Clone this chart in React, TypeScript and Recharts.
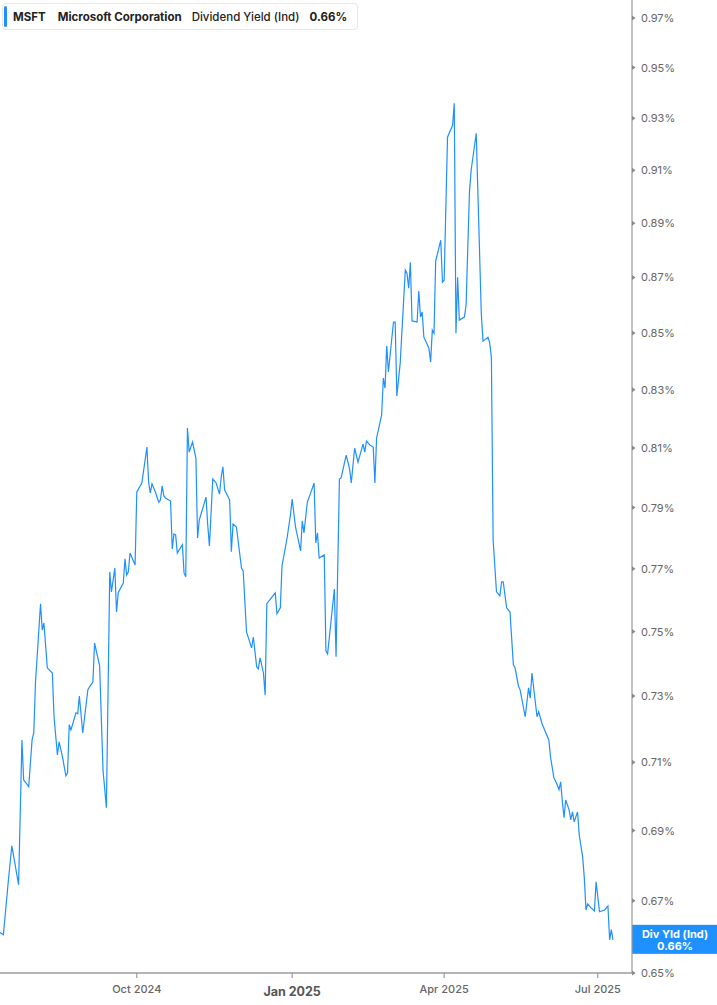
import { LineChart, Line, XAxis, YAxis, ReferenceLine } from 'recharts';

// MSFT dividend yield (indicated)
const dates = [
  // Jul 2024
  '2024-07-12', '2024-07-14', '2024-07-17', '2024-07-19', '2024-07-23', '2024-07-25', '2024-07-26', '2024-07-29', '2024-07-31',
  // Aug
  '2024-08-01', '2024-08-02', '2024-08-05', '2024-08-06', '2024-08-07', '2024-08-09', '2024-08-12', '2024-08-13', '2024-08-15', '2024-08-16',
  '2024-08-18', '2024-08-20', '2024-08-21', '2024-08-22', '2024-08-23', '2024-08-26', '2024-08-27', '2024-08-28', '2024-08-30',
  // Sep
  '2024-09-02', '2024-09-03', '2024-09-05', '2024-09-06', '2024-09-09', '2024-09-11', '2024-09-13', '2024-09-15', '2024-09-16',
  '2024-09-18', '2024-09-19', '2024-09-20', '2024-09-23', '2024-09-24', '2024-09-25', '2024-09-26', '2024-09-27', '2024-09-30',
  // Oct
  '2024-10-01', '2024-10-04', '2024-10-07', '2024-10-08', '2024-10-09', '2024-10-10', '2024-10-12', '2024-10-14', '2024-10-15', '2024-10-16',
  '2024-10-17', '2024-10-18', '2024-10-21', '2024-10-22', '2024-10-23', '2024-10-24', '2024-10-25', '2024-10-28', '2024-10-29', '2024-10-30', '2024-10-31',
  // Nov
  '2024-11-01', '2024-11-03', '2024-11-05', '2024-11-06', '2024-11-07', '2024-11-11', '2024-11-12', '2024-11-13', '2024-11-15',
  '2024-11-17', '2024-11-19', '2024-11-20', '2024-11-21', '2024-11-22', '2024-11-25', '2024-11-26', '2024-11-27', '2024-11-29',
  // Dec
  '2024-12-02', '2024-12-03', '2024-12-05', '2024-12-08', '2024-12-09', '2024-12-11', '2024-12-12', '2024-12-13', '2024-12-15',
  '2024-12-16', '2024-12-17', '2024-12-22', '2024-12-23', '2024-12-25', '2024-12-26', '2024-12-29', '2024-12-31',
  // Jan 2025
  '2025-01-01', '2025-01-03', '2025-01-06', '2025-01-07', '2025-01-08', '2025-01-10', '2025-01-12', '2025-01-14', '2025-01-15',
  '2025-01-16', '2025-01-17', '2025-01-20', '2025-01-21', '2025-01-22', '2025-01-26', '2025-01-27', '2025-01-29', '2025-01-30',
  // Feb
  '2025-02-02', '2025-02-04', '2025-02-05', '2025-02-07', '2025-02-09', '2025-02-12', '2025-02-13', '2025-02-14', '2025-02-16',
  '2025-02-18', '2025-02-19', '2025-02-20', '2025-02-23', '2025-02-24', '2025-02-25', '2025-02-26', '2025-02-27',
  // Mar
  '2025-03-02', '2025-03-03', '2025-03-04', '2025-03-06', '2025-03-09', '2025-03-10', '2025-03-11', '2025-03-12', '2025-03-13', '2025-03-16',
  '2025-03-17', '2025-03-18', '2025-03-19', '2025-03-20', '2025-03-23', '2025-03-24', '2025-03-25', '2025-03-26', '2025-03-27', '2025-03-30', '2025-03-31',
  // Apr
  '2025-04-01', '2025-04-03', '2025-04-06', '2025-04-07', '2025-04-08', '2025-04-09', '2025-04-10', '2025-04-13', '2025-04-14',
  '2025-04-16', '2025-04-17', '2025-04-20', '2025-04-23', '2025-04-24', '2025-04-27', '2025-04-28', '2025-04-29', '2025-04-30',
  // May
  '2025-05-02', '2025-05-04', '2025-05-05', '2025-05-06', '2025-05-08', '2025-05-10', '2025-05-12', '2025-05-13', '2025-05-15',
  '2025-05-16', '2025-05-19', '2025-05-21', '2025-05-22', '2025-05-23', '2025-05-26', '2025-05-27', '2025-05-29', '2025-05-31',
  // Jun
  '2025-06-02', '2025-06-03', '2025-06-05', '2025-06-07', '2025-06-08', '2025-06-09', '2025-06-10', '2025-06-11', '2025-06-12', '2025-06-14', '2025-06-15',
  '2025-06-16', '2025-06-17', '2025-06-19', '2025-06-20', '2025-06-22', '2025-06-23', '2025-06-24', '2025-06-25', '2025-06-27', '2025-06-29', '2025-06-30',
  // Jul
  '2025-07-02', '2025-07-05', '2025-07-07', '2025-07-08', '2025-07-09', '2025-07-10',
];

const yields = [
  // Jul 2024
  0.6611, 0.6605, 0.6759, 0.6856, 0.6745, 0.7167, 0.7048, 0.7028, 0.7167,
  // Aug
  0.7188, 0.7340, 0.7588, 0.7505, 0.7527, 0.7387, 0.7371, 0.7237, 0.7122, 0.7161,
  0.7116, 0.7060, 0.7069, 0.7213, 0.7197, 0.7249, 0.7246, 0.7300, 0.7188,
  // Sep
  0.7319, 0.7328, 0.7343, 0.7464, 0.7393, 0.7077, 0.6966, 0.7690, 0.7626,
  0.7702, 0.7562, 0.7623, 0.7654, 0.7732, 0.7680, 0.7690, 0.7751, 0.7712,
  // Oct
  0.7952, 0.7982, 0.8103, 0.7985, 0.7949, 0.7979, 0.7952, 0.7918, 0.7925, 0.7972,
  0.7939, 0.7932, 0.7922, 0.7764, 0.7813, 0.7810, 0.7751, 0.7778, 0.7686, 0.7674, 0.8168,
  // Nov
  0.8086, 0.8120, 0.8066, 0.7800, 0.7859, 0.7935, 0.7843, 0.7774, 0.7995,
  0.7982, 0.7945, 0.8002, 0.8036, 0.7959, 0.7925, 0.7755, 0.7846, 0.7836,
  // Dec
  0.7702, 0.7693, 0.7498, 0.7449, 0.7483, 0.7390, 0.7384, 0.7418, 0.7371,
  0.7303, 0.7588, 0.7623, 0.7556, 0.7575, 0.7709, 0.7800, 0.7876,
  // Jan 2025
  0.7928, 0.7836, 0.7758, 0.7856, 0.7817, 0.7918, 0.7949, 0.7982, 0.7784,
  0.7817, 0.7735, 0.7745, 0.7440, 0.7430, 0.7635, 0.7421, 0.7995, 0.7999,
  // Feb
  0.8076, 0.8029, 0.7982, 0.8099, 0.8052, 0.8113, 0.8086, 0.8123, 0.8110,
  0.8103, 0.7982, 0.8134, 0.8213, 0.8341, 0.8306, 0.8454, 0.8362,
  // Mar
  0.8539, 0.8539, 0.8278, 0.8394, 0.8727, 0.8716, 0.8661, 0.8756, 0.8543, 0.8539,
  0.8651, 0.8557, 0.8575, 0.8485, 0.8446, 0.8397, 0.8510, 0.8499, 0.8760, 0.8837, 0.8683,
  // Apr
  0.8690, 0.9227, 0.9273, 0.9359, 0.8499, 0.8701, 0.8546, 0.8557, 0.8600,
  0.9017, 0.9100, 0.9242, 0.8571, 0.8471, 0.8485, 0.8464, 0.8411, 0.7794,
  // May
  0.7626, 0.7613, 0.7658, 0.7658, 0.7575, 0.7562, 0.7396, 0.7387, 0.7331,
  0.7319, 0.7237, 0.7325, 0.7294, 0.7371, 0.7237, 0.7252, 0.7216, 0.7191,
  // Jun
  0.7167, 0.7116, 0.7054, 0.7033, 0.7019, 0.7042, 0.6984, 0.6937, 0.6989, 0.6960, 0.6931,
  0.6954, 0.6925, 0.6954, 0.6887, 0.6825, 0.6765, 0.6674, 0.6691, 0.6680, 0.6671, 0.6753,
  // Jul
  0.6669, 0.6674, 0.6685, 0.6591, 0.6619, 0.6591,
];

const yTicks = [0.65, 0.67, 0.69, 0.71, 0.73, 0.75, 0.77, 0.79, 0.81, 0.83, 0.85, 0.87, 0.89, 0.91, 0.93, 0.95, 0.97];
const xTickDates = ['2024-10-01', '2025-01-01', '2025-04-01', '2025-07-01'];
const xTickLabels = ['Oct 2024', 'Jan 2025', 'Apr 2025', 'Jul 2025'];

const ticker = 'MSFT';
const company = 'Microsoft Corporation';
const metric = 'Dividend Yield (Ind)';
const shortMetric = 'Div Yld (Ind)';

const BLUE = '#1e90ff';

const data = dates.map((d, i) => ({ t: Date.parse(d), v: yields[i] }));
const xTicks = xTickDates.map((d) => Date.parse(d));
const xDomain = [Date.parse('2024-07-12'), Date.parse('2025-07-21T06:00:00Z')];
const lastValue = yields[yields.length - 1];
const lastText = lastValue.toFixed(2) + '%';

const XTick = (props: any) => {
  const { x, y, payload } = props;
  const i = xTicks.indexOf(payload.value);
  const label = xTickLabels[i] ?? '';
  const bold = label.startsWith('Jan');
  return (
    <g>
      <line x1={x} x2={x} y1={y} y2={y + 5} stroke="#8a8a8a" strokeWidth={1} />
      <text
        x={x}
        y={y + (bold ? 23 : 20)}
        textAnchor="middle"
        fontSize={bold ? 12.5 : 11}
        fontWeight={bold ? 700 : 500}
        fill={bold ? '#555' : '#666'}
      >
        {label}
      </text>
    </g>
  );
};

const YTick = (props: any) => {
  const { x, y, payload } = props;
  return (
    <g>
      <path d={`M${x},${y - 2.5} L${x + 3.5},${y} L${x},${y + 2.5} Z`} fill="#888" />
      <text x={x + 9} y={y + 4} fontSize={11} fill="#666">
        {payload.value.toFixed(2)}%
      </text>
    </g>
  );
};

const EndLabel = (props: any) => {
  const vb = props.viewBox || {};
  const x = vb.x + vb.width;
  const y = vb.y;
  return (
    <g>
      <rect x={x} y={y - 15} width={85} height={29} fill={BLUE} />
      <text x={x + 43} y={y - 2} textAnchor="middle" fill="#fff" fontSize={11} fontWeight={700}>
        {shortMetric}
      </text>
      <text x={x + 43} y={y + 10} textAnchor="middle" fill="#fff" fontSize={11} fontWeight={700}>
        {lastText}
      </text>
    </g>
  );
};

export default function App() {
  return (
    <div
      style={{
        position: 'absolute',
        left: 0,
        top: 0,
        width: 717,
        height: 1005,
        background: '#fff',
        fontFamily: 'Inter, "Noto Sans", sans-serif',
      }}
    >
      <LineChart width={717} height={1005} data={data} margin={{ top: 0, right: 0, left: 0, bottom: 0 }}>
        <XAxis
          dataKey="t"
          type="number"
          domain={xDomain}
          ticks={xTicks}
          interval={0}
          height={32}
          allowDataOverflow
          axisLine={{ stroke: '#b4b4b4', strokeWidth: 2 }}
          tickLine={false}
          tickSize={0}
          tickMargin={0}
          tick={<XTick />}
        />
        <YAxis
          yAxisId={0}
          orientation="right"
          type="number"
          scale="log"
          domain={[0.65, 0.9773]}
          allowDataOverflow
          ticks={yTicks}
          interval={0}
          width={85}
          axisLine={{ stroke: '#999', strokeWidth: 1.2 }}
          tickLine={false}
          tickSize={0}
          tickMargin={0}
          tick={<YTick />}
        />
        <ReferenceLine y={lastValue} stroke="none" ifOverflow="visible" label={<EndLabel />} />
        <Line
          type="linear"
          dataKey="v"
          stroke={BLUE}
          strokeWidth={1.2}
          dot={false}
          activeDot={false}
          isAnimationActive={false}
        />
      </LineChart>
      <div
        style={{
          position: 'absolute',
          left: 2,
          top: 3,
          width: 356,
          height: 27,
          boxSizing: 'border-box',
          border: '1px solid #e8e8e8',
          borderRadius: 4,
          background: '#fff',
          display: 'flex',
          alignItems: 'center',
          fontSize: 11.5,
          color: '#222',
          whiteSpace: 'nowrap',
        }}
      >
        <div
          style={{
            position: 'absolute',
            left: 1,
            top: 2,
            width: 3,
            height: 21,
            borderRadius: 2,
            background: BLUE,
          }}
        />
        <span style={{ marginLeft: 10, fontWeight: 700 }}>{ticker}</span>
        <span style={{ marginLeft: 12, fontWeight: 700 }}>{company}</span>
        <span style={{ marginLeft: 10, fontWeight: 500 }}>{metric}</span>
        <span style={{ marginLeft: 10, fontWeight: 700 }}>{lastText}</span>
      </div>
    </div>
  );
}
